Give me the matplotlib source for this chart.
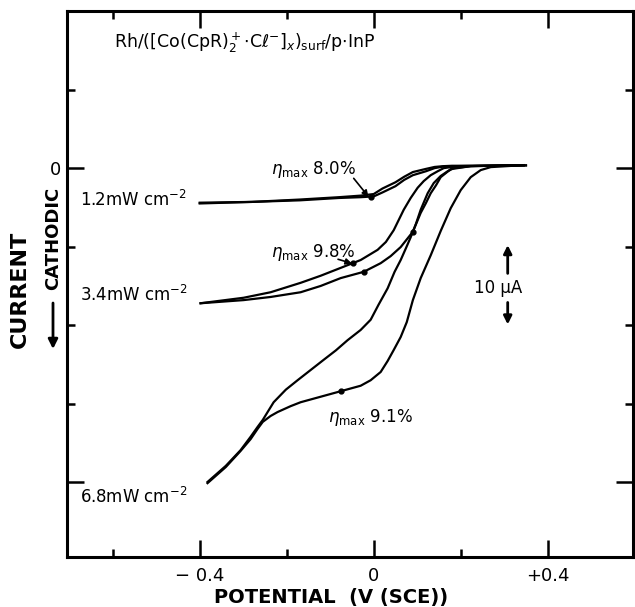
import numpy as np
import matplotlib
matplotlib.use('Agg')
import matplotlib.pyplot as plt
from matplotlib.ticker import FixedLocator, FixedFormatter, NullFormatter

# photocurrent (uA) vs potential (V vs SCE), forward / return sweep for each intensity
a_v = [-0.40, -0.28, -0.17, -0.08, -0.03, 0.00, 0.02, 0.05, 0.07, 0.09, 0.12, 0.14, 0.16, 0.18, 0.27, 0.35]
a_fwd = [-4.4, -4.3, -4.1, -3.8, -3.7, -3.6, -3.1, -2.3, -1.5, -0.9, -0.4, 0.0, 0.2, 0.25, 0.3, 0.35]
a_rev = [-4.5, -4.3, -4.0, -3.7, -3.5, -3.3, -2.6, -1.8, -1.1, -0.5, -0.1, 0.15, 0.25, 0.3, 0.3, 0.35]

b_up_v = [-0.398, -0.299, -0.237, -0.168, -0.122, -0.076, -0.030, 0.009, 0.028, 0.046, 0.069,
          0.085, 0.101, 0.115, 0.131, 0.147, 0.161, 0.193, 0.345]
b_up_i = [-17.2, -16.5, -15.8, -14.6, -13.7, -12.7, -11.7, -10.4, -9.4, -7.9, -5.3,
          -3.8, -2.5, -1.65, -0.9, -0.4, 0.0, 0.25, 0.38]
b_lo_v = [-0.398, -0.299, -0.237, -0.168, -0.122, -0.076, -0.023, 0.016, 0.039, 0.062, 0.090,
          0.108, 0.120, 0.131, 0.143, 0.154, 0.177, 0.223, 0.345]
b_lo_i = [-17.2, -16.8, -16.4, -15.8, -15.0, -14.0, -13.2, -12.1, -11.2, -10.05, -8.1,
          -5.7, -4.45, -3.2, -2.2, -1.15, -0.13, 0.25, 0.38]

c_up_v = [-0.382, -0.340, -0.306, -0.283, -0.267, -0.255, -0.230, -0.202, -0.175, -0.145,
          -0.115, -0.087, -0.060, -0.030, -0.007, 0.011, 0.032, 0.048, 0.062, 0.074, 0.085,
          0.097, 0.108, 0.124, 0.138, 0.154, 0.170, 0.184, 0.223, 0.345]
c_up_i = [-39.95, -37.9, -35.9, -34.2, -32.95, -32.05, -29.8, -28.2, -27.0, -25.7,
          -24.4, -23.2, -21.9, -20.6, -19.3, -17.4, -15.3, -13.2, -11.7, -10.2, -8.8,
          -7.1, -5.3, -3.2, -1.9, -1.0, -0.4, 0.0, 0.25, 0.38]
c_lo_v = [-0.382, -0.340, -0.306, -0.283, -0.267, -0.255, -0.237, -0.221, -0.191, -0.168,
          -0.122, -0.076, -0.030, -0.007, 0.016, 0.032, 0.046, 0.062, 0.076, 0.090, 0.108,
          0.131, 0.154, 0.177, 0.200, 0.223, 0.246, 0.269, 0.345]
c_lo_i = [-40.1, -38.05, -36.0, -34.5, -33.2, -32.3, -31.55, -31.05, -30.3, -29.8,
          -29.1, -28.4, -27.7, -27.0, -25.95, -24.55, -23.15, -21.5, -19.6, -16.8, -14.0,
          -11.1, -8.0, -5.1, -2.8, -1.15, -0.25, 0.13, 0.38]

intensity_labels = ['1.2mW cm$^{-2}$', '3.4mW cm$^{-2}$', '6.8mW cm$^{-2}$']
intensity_pos = [(-0.674, -4.1), (-0.674, -16.2), (-0.674, -41.9)]
eff_labels = [r'$\eta_{\rm max}$ 8.0%', r'$\eta_{\rm max}$ 9.8%', r'$\eta_{\rm max}$ 9.1%']

plt.rcParams['font.family'] = 'DejaVu Sans'
plt.rcParams['mathtext.fontset'] = 'dejavusans'

fig = plt.figure(figsize=(6.35, 6.07), dpi=100)
ax = fig.add_axes([67 / 635, 1 - 557 / 607, 566 / 635, 546 / 607])

lw = 1.6
ax.plot(a_v, a_fwd, color='black', lw=lw)
ax.plot(a_v, a_rev, color='black', lw=lw)
ax.plot(b_up_v, b_up_i, color='black', lw=lw)
ax.plot(b_lo_v, b_lo_i, color='black', lw=lw)
ax.plot(c_up_v, c_up_i, color='black', lw=lw)
ax.plot(c_lo_v, c_lo_i, color='black', lw=lw)

# small dots marking the max-efficiency points
dots = [(-0.007, a_v, a_fwd), (-0.048, b_up_v, b_up_i), (-0.023, b_lo_v, b_lo_i),
        (0.090, b_lo_v, b_lo_i), (-0.076, c_lo_v, c_lo_i)]
for xv, xs, ys in dots:
    ax.plot(xv, np.interp(xv, xs, ys), 'o', color='black', ms=3.5)

for lab, (x, y) in zip(intensity_labels, intensity_pos):
    ax.text(x, y, lab, fontsize=12, ha='left', va='center')

ax.text(-0.237, -0.2, eff_labels[0], fontsize=12, ha='left', va='center')
ax.text(-0.237, -10.8, eff_labels[1], fontsize=12, ha='left', va='center')
ax.text(-0.106, -31.7, eff_labels[2], fontsize=12, ha='left', va='center')

arrow = dict(arrowstyle='-|>', color='black', lw=1.2, mutation_scale=9, shrinkA=0, shrinkB=0)
ax.annotate('', xy=(-0.012, np.interp(-0.012, a_v, a_fwd)), xytext=(-0.046, -1.3), arrowprops=arrow)
ax.annotate('', xy=(-0.050, np.interp(-0.050, b_up_v, b_up_i)), xytext=(-0.082, -11.6), arrowprops=arrow)

ax.text(-0.598, 16.0, r'Rh/([Co(CpR)$_2^+$$\cdot$Cℓ$^{-}$]$_x$)$_{\rm surf}$/p$\cdot$InP',
        fontsize=12.5, ha='left', va='center')

# 10 uA scale bar
sb = dict(arrowstyle='-|>', color='black', lw=2, mutation_scale=12, shrinkA=0, shrinkB=0)
ax.annotate('', xy=(0.308, -9.8), xytext=(0.308, -13.4), arrowprops=sb)
ax.annotate('', xy=(0.308, -19.9), xytext=(0.308, -17.1), arrowprops=sb)
ax.text(0.285, -15.3, '10 μA', fontsize=12, ha='center', va='center')

ax.set_xlim(-0.705, 0.596)
ax.set_ylim(-49.5, 20)

ax.xaxis.set_major_locator(FixedLocator([-0.4, 0, 0.4]))
ax.xaxis.set_minor_locator(FixedLocator([-0.6, -0.2, 0.2]))
ax.xaxis.set_major_formatter(FixedFormatter(['\u2212 0.4', '0', '+0.4']))
ax.yaxis.set_major_locator(FixedLocator([0, -40]))
ax.yaxis.set_minor_locator(FixedLocator([10, -10, -20, -30]))
ax.yaxis.set_major_formatter(FixedFormatter(['0', '']))
ax.yaxis.set_minor_formatter(NullFormatter())

ax.tick_params(which='both', direction='in', top=True, right=True, width=1.8, labelsize=13)
ax.tick_params(which='major', length=12, pad=7)
ax.tick_params(which='minor', length=6)
ax.tick_params(axis='y', which='major', pad=4)
for s in ax.spines.values():
    s.set_linewidth(2.2)

fig.text(331 / 635, 1 - 597 / 607, 'POTENTIAL  (V (SCE))', fontsize=14, fontweight='bold',
         ha='center', va='center')
fig.text(20 / 635, 1 - 289 / 607, 'CURRENT', fontsize=16, fontweight='bold',
         rotation=90, ha='center', va='center')
fig.text(53 / 635, 1 - 238 / 607, 'CATHODIC', fontsize=13, fontweight='bold',
         rotation=90, ha='center', va='center')
ax.annotate('', xy=(53 / 635, 1 - 349 / 607), xytext=(53 / 635, 1 - 303 / 607),
            xycoords='figure fraction',
            arrowprops=dict(arrowstyle='-|>', color='black', lw=2, mutation_scale=14,
                            shrinkA=0, shrinkB=0))

fig.savefig('out.png', dpi=100)
